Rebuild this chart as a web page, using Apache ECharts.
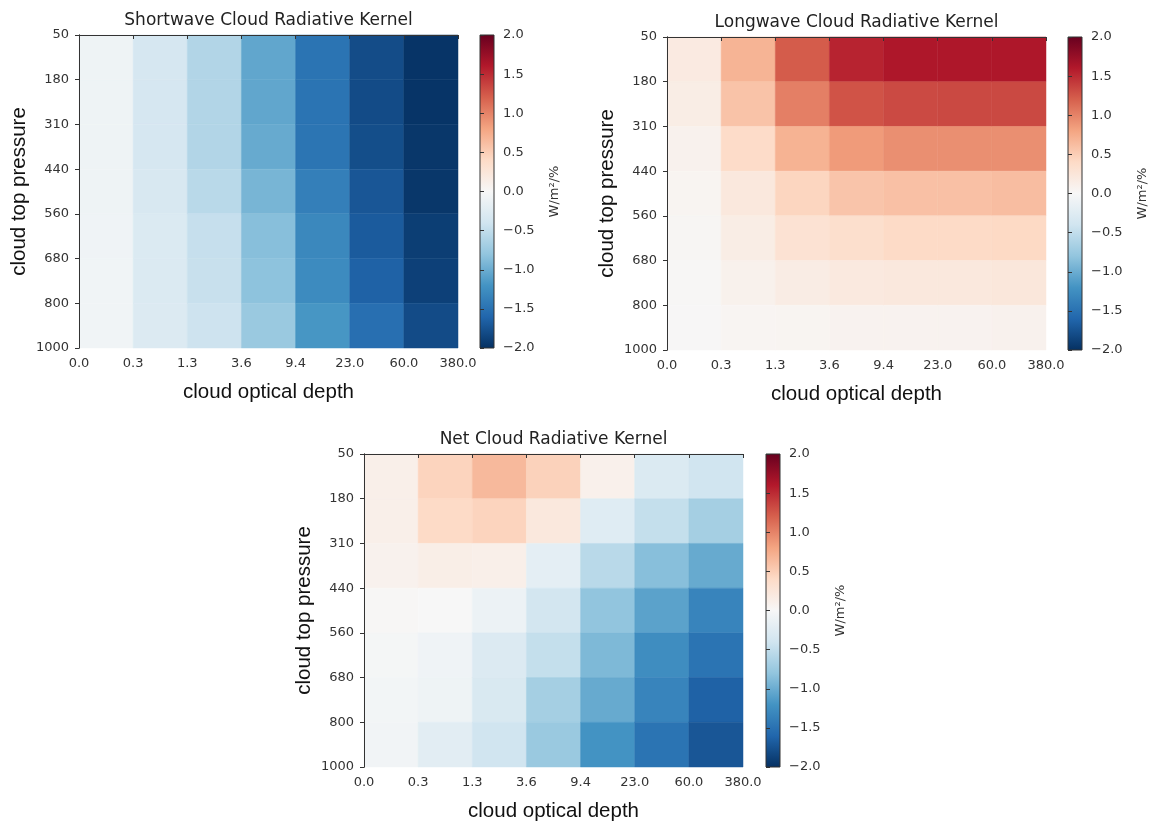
<!DOCTYPE html>
<html>
<head>
<meta charset="utf-8">
<script src="https://cdn.jsdelivr.net/npm/echarts@6/dist/echarts.min.js"></script>
<style>html,body{margin:0;padding:0;background:#fff}#c{width:1152px;height:825px}</style>
</head>
<body>
<div id="c"></div>
<script>
// ---- data ----
const xTickLabels = ['0.0', '0.3', '1.3', '3.6', '9.4', '23.0', '60.0', '380.0']; // cloud optical depth bin edges
const yTickLabels = ['50', '180', '310', '440', '560', '680', '800', '1000'];      // cloud top pressure bin edges (top -> bottom)
const titles = ['Shortwave Cloud Radiative Kernel', 'Longwave Cloud Radiative Kernel', 'Net Cloud Radiative Kernel'];
const xName = 'cloud optical depth';
const yName = 'cloud top pressure';
const cbName = 'W/m²/%';

// rows: pressure bins from top (50-180) to bottom (800-1000); cols: optical depth bins
const swKernel = [
  [-0.10, -0.35, -0.60, -1.05, -1.48, -1.79, -1.97],
  [-0.10, -0.35, -0.60, -1.05, -1.48, -1.80, -1.97],
  [-0.10, -0.35, -0.60, -1.02, -1.47, -1.78, -1.95],
  [-0.09, -0.33, -0.55, -0.93, -1.38, -1.72, -1.95],
  [-0.08, -0.30, -0.47, -0.85, -1.30, -1.68, -1.90],
  [-0.07, -0.30, -0.46, -0.82, -1.27, -1.63, -1.88],
  [-0.07, -0.28, -0.42, -0.75, -1.18, -1.52, -1.80]
];
const lwKernel = [
  [0.18, 0.69, 1.22, 1.54, 1.62, 1.62, 1.62],
  [0.15, 0.58, 1.02, 1.27, 1.32, 1.33, 1.33],
  [0.08, 0.38, 0.70, 0.86, 0.93, 0.93, 0.93],
  [0.05, 0.22, 0.44, 0.57, 0.60, 0.60, 0.62],
  [0.03, 0.15, 0.30, 0.35, 0.40, 0.40, 0.41],
  [0.02, 0.09, 0.16, 0.20, 0.22, 0.22, 0.23],
  [0.01, 0.04, 0.05, 0.07, 0.07, 0.07, 0.08]
];
const netKernel = [
  [0.12, 0.45, 0.65, 0.47, 0.10, -0.30, -0.40],
  [0.12, 0.40, 0.45, 0.22, -0.25, -0.48, -0.68],
  [0.08, 0.13, 0.12, -0.20, -0.55, -0.85, -1.02],
  [0.02, 0.00, -0.12, -0.38, -0.80, -1.08, -1.33],
  [-0.03, -0.08, -0.28, -0.48, -0.90, -1.25, -1.48],
  [-0.05, -0.10, -0.32, -0.68, -1.02, -1.33, -1.63],
  [-0.06, -0.22, -0.40, -0.75, -1.20, -1.48, -1.72]
];
const colorbarMin = -2, colorbarMax = 2, colorbarStep = 0.5;

// ---- styling / layout ----
const RdBu_r = ['#053061','#2166ac','#4393c3','#92c5de','#d1e5f0','#f7f7f7','#fddbc7','#f4a582','#d6604d','#b2182b','#67001f'];
const W = 379, H = 313, CBW = 14;
const layout = [
  { left: 79,  top: 35,  cbLeft: 480 },
  { left: 667, top: 37,  cbLeft: 1068 },
  { left: 364, top: 454, cbLeft: 766 }
];
const kernels = [swKernel, lwKernel, netKernel];
const tickFont = { fontFamily: 'DejaVu Sans', fontSize: 13, color: '#333' };
const lineCol = '#333';

function toCells(m) {
  const out = [];
  m.forEach((row, r) => row.forEach((v, c) => out.push([c, r, v])));
  return out;
}
function fmtCb(v) { return (v < 0 ? '\u2212' : '') + Math.abs(v).toFixed(1); }

const grid = [], xAxis = [], yAxis = [], series = [], graphic = [];
layout.forEach((L, i) => {
  const g = grid.length;
  grid.push({ left: L.left, top: L.top, width: W, height: H, outerBoundsMode: 'none' });
  grid.push({ left: L.cbLeft, top: L.top, width: CBW, height: H, outerBoundsMode: 'none' });

  const xi = xAxis.length, yi = yAxis.length;
  // main x (bottom)
  xAxis.push({
    type: 'value', gridIndex: g, min: 0, max: xTickLabels.length - 1, interval: 1, position: 'bottom', z: 10,
    axisLine: { show: true, lineStyle: { color: lineCol, width: 1 } },
    axisTick: { show: true, length: 4, lineStyle: { color: lineCol } },
    axisLabel: Object.assign({ margin: 9, formatter: v => xTickLabels[v] }, tickFont),
    splitLine: { show: false },
    name: xName, nameLocation: 'middle', nameGap: 34,
    nameTextStyle: { fontFamily: 'Liberation Sans', fontSize: 20.5, color: '#111' }
  });
  // main x (top) frame only
  xAxis.push({
    type: 'value', gridIndex: g, min: 0, max: xTickLabels.length - 1, interval: 1, position: 'top', z: 10,
    axisLine: { show: true, lineStyle: { color: lineCol, width: 1 } },
    axisTick: { show: false }, axisLabel: { show: false }, splitLine: { show: false }
  });
  // colorbar x (hidden)
  xAxis.push({ type: 'value', gridIndex: g + 1, min: 0, max: 1, show: false });

  yAxis.push({
    type: 'value', gridIndex: g, min: 0, max: yTickLabels.length - 1, interval: 1, inverse: true, position: 'left', z: 10,
    axisLine: { show: true, lineStyle: { color: lineCol, width: 1 } },
    axisTick: { show: true, length: 4, lineStyle: { color: lineCol } },
    axisLabel: Object.assign({ margin: 10, formatter: v => yTickLabels[v] }, tickFont),
    splitLine: { show: false },
    name: yName, nameLocation: 'middle', nameGap: 49,
    nameTextStyle: { fontFamily: 'Liberation Sans', fontSize: 20.5, color: '#111' }
  });
  yAxis.push({
    type: 'value', gridIndex: g, min: 0, max: yTickLabels.length - 1, interval: 1, inverse: true, position: 'right', z: 10,
    axisLine: { show: true, lineStyle: { color: lineCol, width: 1 } },
    axisTick: { show: false }, axisLabel: { show: false }, splitLine: { show: false }
  });
  yAxis.push({
    type: 'value', gridIndex: g + 1, min: colorbarMin, max: colorbarMax, interval: colorbarStep, position: 'right', z: 10,
    axisLine: { show: false },
    axisTick: { show: true, length: 4, lineStyle: { color: lineCol } },
    axisLabel: Object.assign({ margin: 9, formatter: fmtCb }, tickFont),
    splitLine: { show: false },
    name: cbName, nameLocation: 'middle', nameGap: 54, nameRotate: 90,
    nameTextStyle: { fontFamily: 'DejaVu Sans', fontSize: 13, color: '#333' }
  });

  series.push({
    type: 'custom', xAxisIndex: xi, yAxisIndex: yi,
    dimensions: ['col', 'row', 'value'], encode: { x: 0, y: 1 },
    data: toCells(kernels[i]),
    renderItem: (params, api) => {
      const c = api.value(0), r = api.value(1);
      const p0 = api.coord([c, r]), p1 = api.coord([c + 1, r + 1]);
      return {
        type: 'rect',
        shape: { x: Math.min(p0[0], p1[0]), y: Math.min(p0[1], p1[1]), width: Math.abs(p1[0] - p0[0]), height: Math.abs(p1[1] - p0[1]) },
        style: { fill: api.visual('color'), stroke: api.visual('color'), lineWidth: 0.5 }
      };
    }
  });
  series.push({
    type: 'custom', xAxisIndex: xi + 2, yAxisIndex: yi + 2,
    data: [[0, 0]],
    renderItem: (params, api) => {
      const p0 = api.coord([0, colorbarMax]), p1 = api.coord([1, colorbarMin]);
      const stops = RdBu_r.slice().reverse().map((c, k) => ({ offset: k / (RdBu_r.length - 1), color: c }));
      return {
        type: 'rect',
        shape: { x: p0[0], y: p0[1], width: p1[0] - p0[0], height: p1[1] - p0[1] },
        style: { fill: new echarts.graphic.LinearGradient(0, 0, 0, 1, stops), stroke: lineCol, lineWidth: 1 }
      };
    }
  });

  graphic.push({
    type: 'text', x: L.left + W / 2, y: L.top - 14,
    style: { text: titles[i], textAlign: 'center', textVerticalAlign: 'middle', font: '17px "DejaVu Sans"', fill: '#222' }
  });
});

const chart = echarts.init(document.getElementById('c'), null, { renderer: 'canvas' });
chart.setOption({
  animation: false,
  backgroundColor: '#fff',
  grid, xAxis, yAxis, series, graphic,
  visualMap: {
    type: 'continuous', show: false, seriesIndex: [0, 2, 4], dimension: 2,
    min: colorbarMin, max: colorbarMax, inRange: { color: RdBu_r }
  }
});
</script>
</body>
</html>
